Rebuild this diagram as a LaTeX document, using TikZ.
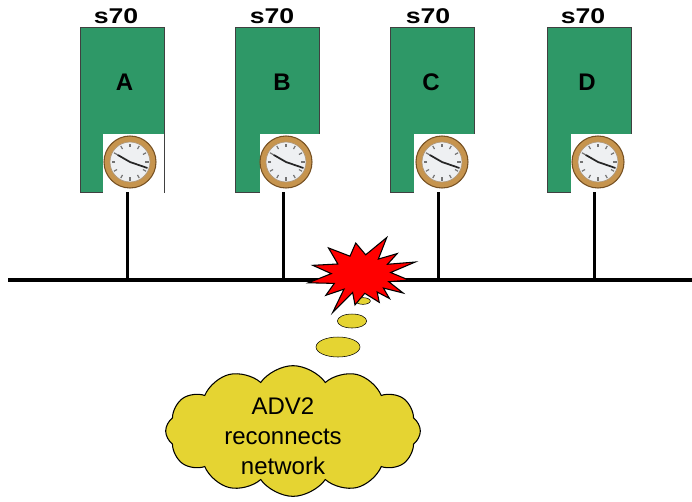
\documentclass[tikz,border=0pt]{standalone}
\usepackage{fontspec}
\setmainfont{Liberation Sans}
\usetikzlibrary{positioning, shapes.geometric, shapes.symbols}

\definecolor{boxgreen}{RGB}{46,152,103}
\definecolor{cloudyellow}{RGB}{229,212,50}
\definecolor{rimgold}{RGB}{198,148,78}
\definecolor{rimdark}{RGB}{118,80,34}
\definecolor{facegrey}{RGB}{238,240,242}
\definecolor{burstred}{RGB}{255,0,0}

\tikzset{
  station/.style={draw=black!75, fill=boxgreen, minimum width=63pt, minimum height=123.75pt, inner sep=0pt},
  clockbg/.style={fill=white, minimum width=45.75pt, minimum height=44.25pt, inner sep=0pt},
  tag/.style={font=\fontsize{18}{20}\selectfont\bfseries, inner sep=0pt},
  model/.style={font=\fontsize{16}{18}\selectfont\bfseries, inner sep=0pt, xscale=1.25},
  drop/.style={line width=2.25pt},
  bubble/.style={ellipse, draw, fill=cloudyellow, inner sep=0pt},
  clockface/.pic={
    \fill[rimgold] (0,0) circle (26);
    \draw[rimdark, line width=0.8pt] (0,0) circle (26);
    \fill[facegrey] (0,0) circle (20);
    \draw[rimdark!60, line width=0.5pt] (0,0) circle (20);
    \foreach \a in {0,30,...,330}
      \draw[black!55, line width=0.9pt] (\a:15) -- (\a:18.5);
    \draw[black!85, line width=1.3pt, line cap=round] (210:14) -- (0,0) -- (19:18);
  }
}

\begin{document}
\begin{tikzpicture}[x=0.75pt, y=-0.75pt]
\useasboundingbox (0,0) rectangle (692,501);

\coordinate (busL) at (8,280);
\coordinate (busR) at (692,280);
\draw[line width=3pt] (busL) -- (busR);

\begin{scope}[shift={(80,27)}]
\node[station] (boxA) at (42,82.5) {};
\node[tag] (lblA) at (44.5,55.5) {A};
\node[model] (typA) at (36,-10.5) {s70};
\node[clockbg] (clkA) at (53.5,136) {};
\pic at (50,135) {clockface};
\coordinate (tailA) at (47,165);
\draw[drop] (tailA) -- (tailA |- busL);
\end{scope}

\begin{scope}[shift={(235,27)}]
\node[station] (boxB) at (42,82.5) {};
\node[tag] (lblB) at (47,55.5) {B};
\node[model] (typB) at (37,-10.5) {s70};
\node[clockbg] (clkB) at (55,136) {};
\pic at (51,135) {clockface};
\coordinate (tailB) at (48,165);
\draw[drop] (tailB) -- (tailB |- busL);
\end{scope}

\begin{scope}[shift={(390,27)}]
\node[station] (boxC) at (42,82.5) {};
\node[tag] (lblC) at (41,55.5) {C};
\node[model] (typC) at (38,-10.5) {s70};
\node[clockbg] (clkC) at (54,136) {};
\pic at (52,135) {clockface};
\coordinate (tailC) at (48,165);
\draw[drop] (tailC) -- (tailC |- busL);
\end{scope}

\begin{scope}[shift={(547,27)}]
\node[station] (boxD) at (42,82.5) {};
\node[tag] (lblD) at (40,55.5) {D};
\node[model] (typD) at (36,-10.5) {s70};
\node[clockbg] (clkD) at (54,136) {};
\pic at (51,135) {clockface};
\coordinate (tailD) at (47,165);
\draw[drop] (tailD) -- (tailD |- busL);
\end{scope}

\node[bubble, minimum width=11pt, minimum height=5pt] (bub1) at (363,301) {};
\node[bubble, minimum width=22pt, minimum height=10.5pt] (bub2) at (352,321) {};
\node[bubble, minimum width=33pt, minimum height=15pt] (bub3) at (338,347) {};

\begin{scope}[shift={(361,274)}, xscale=54, yscale=39]
\filldraw[fill=burstred, draw=black, line width=0.8pt, line join=miter]
  (263:0.8) -- (280:0.5) -- (297:1.05) -- (310:0.5) -- (322:0.85) -- (333:0.55)
  -- (343:1.05) -- (356:0.55) -- (10:0.9) -- (21:0.55) -- (32:0.92) -- (41:0.55)
  -- (50:0.82) -- (57:0.55) -- (65:0.8) -- (82:0.5) -- (98:0.8) -- (108:0.5)
  -- (118:1.12) -- (129:0.5) -- (140:0.85) -- (154:0.55) -- (167:1.0) -- (181:0.55)
  -- (194:0.92) -- (211:0.5) -- (228:0.9) -- (246:0.5) -- cycle;
\end{scope}

\node[cloud, draw, fill=cloudyellow, line width=0.8pt, cloud puffs=12, cloud puff arc=110,
  aspect=2, minimum width=191pt, minimum height=98pt] (adv) at (293,431) {};
\node[align=center, inner sep=0pt, font=\fontsize{18}{22.5}\selectfont] (advtxt) at (283,436.5) {ADV2\\reconnects\\network};
\end{tikzpicture}
\end{document}
